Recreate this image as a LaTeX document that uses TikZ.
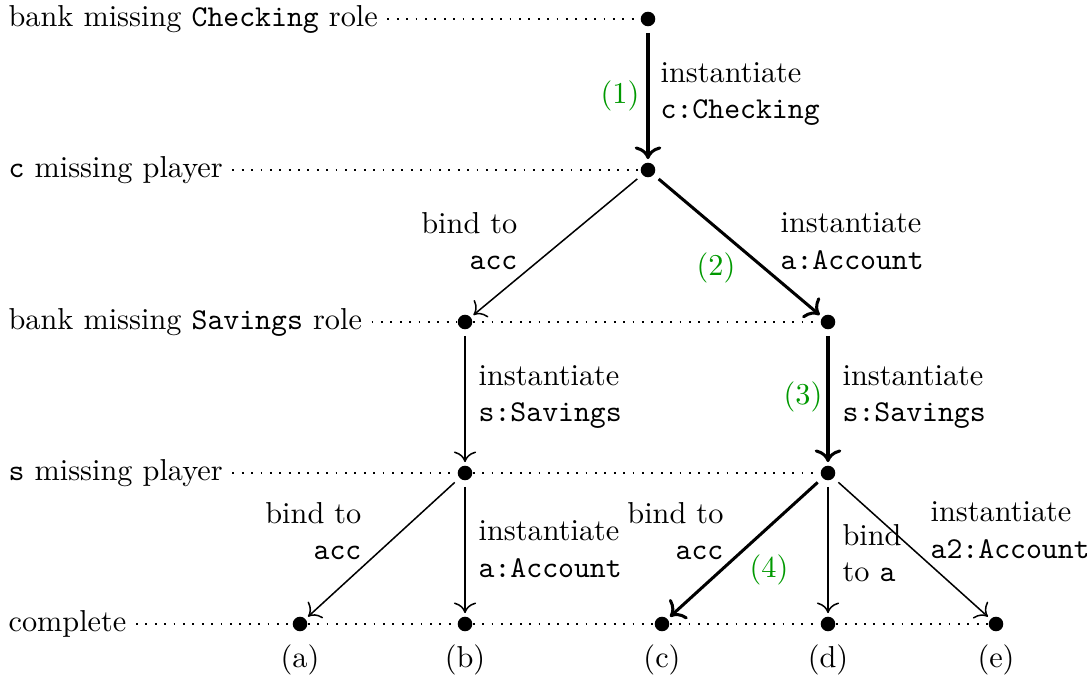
\documentclass[tikz,border=0pt]{standalone}
\usetikzlibrary{arrows.meta}
\begin{document}
\begin{tikzpicture}[x=0.33pt,y=-0.33pt,
  dot/.style={circle,fill,inner sep=0pt,minimum size=4.8pt},
  lvl/.style={anchor=west,inner sep=0pt},
  guide/.style={line width=0.6pt,dash pattern=on 0.6pt off 2.5pt},
  arr/.style={-{To[scale=1.3]},line width=0.5pt,shorten <=2pt,shorten >=1pt},
  hot/.style={-{To[scale=1.1]},line width=1pt,shorten <=2pt,shorten >=1pt},
  lab/.style={align=left,inner sep=0pt,anchor=west},
  rlab/.style={align=right,inner sep=0pt,anchor=east},
  num/.style={text=green!60!black,inner sep=0pt}]
\useasboundingbox (0,0) rectangle (1087,680);
% level labels
\node[lvl] (l1) at (8,19) {bank missing \texttt{Checking} role};
\node[lvl] (l2) at (8,170) {\texttt{c} missing player};
\node[lvl] (l3) at (8,322) {bank missing \texttt{Savings} role};
\node[lvl] (l4) at (8,473) {\texttt{s} missing player};
\node[lvl] (l5) at (8,624) {complete};
% dots
\node[dot] (n1) at (648,19) {};
\node[dot] (n2) at (648,170) {};
\node[dot] (n3l) at (465,322) {};
\node[dot] (n3r) at (828,322) {};
\node[dot] (n4l) at (465,473) {};
\node[dot] (n4r) at (828,473) {};
\node[dot] (na) at (300,624) {};
\node[dot] (nb) at (465,624) {};
\node[dot] (nc) at (662,624) {};
\node[dot] (nd) at (828,624) {};
\node[dot] (ne) at (996,624) {};
% guide lines
\draw[guide] ([xshift=9*0.33pt]l1.east) -- (n1);
\draw[guide] ([xshift=9*0.33pt]l2.east) -- (n2);
\draw[guide] ([xshift=9*0.33pt]l3.east) -- (n3l);
\draw[guide] (n3l) -- (n3r);
\draw[guide] ([xshift=9*0.33pt]l4.east) -- (n4l);
\draw[guide] (n4l) -- (n4r);
\draw[guide] ([xshift=9*0.33pt]l5.east) -- (na);
\draw[guide] (na) -- (nb);
\draw[guide] (nb) -- (nc);
\draw[guide] (nc) -- (nd);
\draw[guide] (nd) -- (ne);
% edges
\draw[hot] (n1) -- (n2);
\draw[arr] (n2) -- (n3l);
\draw[hot] (n2) -- (n3r);
\draw[arr] (n3l) -- (n4l);
\draw[hot] (n3r) -- (n4r);
\draw[arr] (n4l) -- (na);
\draw[arr] (n4l) -- (nb);
\draw[hot] (n4r) -- (nc);
\draw[arr] (n4r) -- (nd);
\draw[arr] (n4r) -- (ne);
% edge labels
\node[lab] (t1) at (660,94) {instantiate\\\texttt{c:Checking}};
\node[num] (g1) at (620,96) {(1)};
\node[rlab] (t2) at (518,241) {bind to\\\texttt{acc}};
\node[lab] (t3) at (780,241) {instantiate\\\texttt{a:Account}};
\node[num] (g2) at (716,268) {(2)};
\node[lab] (t4) at (478,397) {instantiate\\\texttt{s:Savings}};
\node[lab] (t5) at (842,397) {instantiate\\\texttt{s:Savings}};
\node[num] (g3) at (803,397) {(3)};
\node[rlab] (t6) at (362,531) {bind to\\\texttt{acc}};
\node[lab] (t7) at (478,549) {instantiate\\\texttt{a:Account}};
\node[rlab] (t8) at (724,531) {bind to\\\texttt{acc}};
\node[num] (g4) at (769,570) {(4)};
\node[lab] (t9) at (842,553) {bind\\to \texttt{a}};
\node[lab] (t10) at (930,530) {instantiate\\\texttt{a2:Account}};
% case labels
\node (ca) at (300,660) {(a)};
\node (cb) at (465,660) {(b)};
\node (cc) at (662,660) {(c)};
\node (cd) at (828,660) {(d)};
\node (ce) at (996,660) {(e)};
\end{tikzpicture}
\end{document}
